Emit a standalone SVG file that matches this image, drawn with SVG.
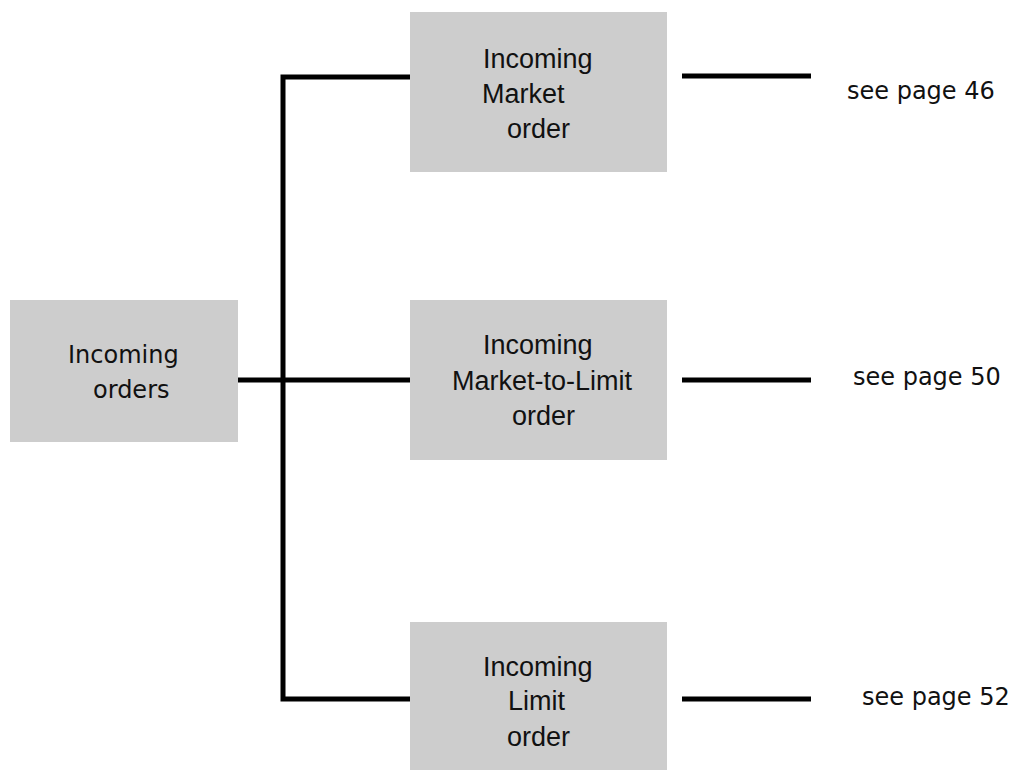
<svg xmlns="http://www.w3.org/2000/svg" width="1034" height="771" viewBox="0 0 1034 771">
<style>
.box{fill:#cdcdcd;stroke:none}
.t1{font-family:"DejaVu Sans",sans-serif;font-size:24px;fill:#111}
.t2{font-family:"Liberation Sans",Arial,sans-serif;font-size:27px;fill:#111}
.ln{stroke:#000;stroke-width:5;fill:none;stroke-linecap:butt;stroke-linejoin:miter}
</style>
<rect width="1034" height="771" fill="#fff"/>
<g id="connectors">
<polyline class="ln" points="410,77 283,77 283,699 410,699"/>
<line class="ln" x1="234" y1="380" x2="410" y2="380"/>
<line class="ln" x1="682" y1="76" x2="811" y2="76"/>
<line class="ln" x1="682" y1="380" x2="811" y2="380"/>
<line class="ln" x1="682" y1="699" x2="811" y2="699"/>
</g>
<g id="incoming-orders">
<rect class="box" x="10" y="300" width="228" height="142"/>
<text class="t1" x="68" y="363">Incoming</text>
<text class="t1" x="93" y="398">orders</text>
</g>
<g id="market-order">
<rect class="box" x="410" y="12" width="257" height="160"/>
<text class="t2" x="483" y="68">Incoming</text>
<text class="t2" x="482" y="103">Market</text>
<text class="t2" x="507" y="138">order</text>
</g>
<g id="mtl-order">
<rect class="box" x="410" y="300" width="257" height="160"/>
<text class="t2" x="483" y="354">Incoming</text>
<text class="t2" x="452" y="390">Market-to-Limit</text>
<text class="t2" x="512" y="425">order</text>
</g>
<g id="limit-order">
<rect class="box" x="410" y="622" width="257" height="148"/>
<text class="t2" x="483" y="676">Incoming</text>
<text class="t2" x="508" y="710">Limit</text>
<text class="t2" x="507" y="746">order</text>
</g>
<g id="ref-46"><text class="t1" x="847" y="99">see page 46</text></g>
<g id="ref-50"><text class="t1" x="853" y="385">see page 50</text></g>
<g id="ref-52"><text class="t1" x="862" y="705">see page 52</text></g>
</svg>
